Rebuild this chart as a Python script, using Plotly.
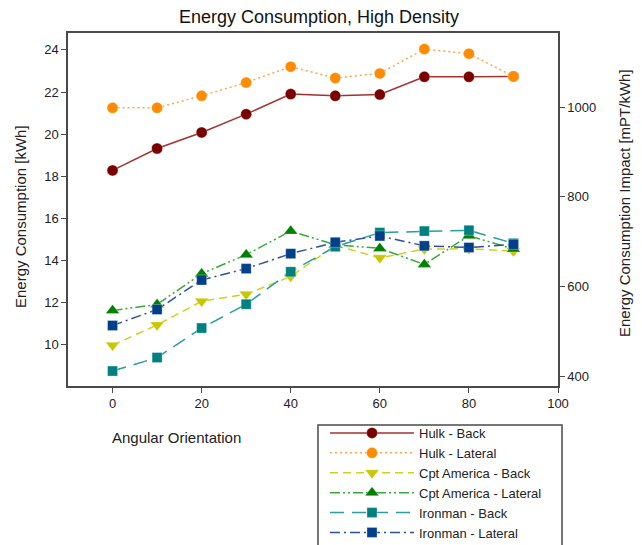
import plotly.graph_objects as go

angles = [0, 10, 20, 30, 40, 50, 60, 70, 80, 90]

hulk_back = [18.28, 19.32, 20.08, 20.95, 21.90, 21.82, 21.88, 22.72, 22.72, 22.74]
hulk_lateral = [21.25, 21.25, 21.82, 22.45, 23.20, 22.66, 22.88, 24.04, 23.82, 22.74]
cpt_back = [9.98, 10.95, 12.07, 12.40, 13.25, 14.72, 14.13, 14.55, 14.56, 14.45]
cpt_lateral = [11.63, 11.92, 13.38, 14.28, 15.40, 14.75, 14.58, 13.82, 15.18, 14.55]
iron_back = [8.76, 9.40, 10.80, 11.93, 13.47, 14.66, 15.33, 15.40, 15.44, 14.82]
iron_lateral = [10.92, 11.68, 13.08, 13.62, 14.33, 14.87, 15.17, 14.70, 14.62, 14.77]

impact_factor = 47  # mPT/kWh conversion for right axis
left_range = [8.05, 24.8]

FONT = "Liberation Sans, Arial, sans-serif"

series = [
    ("Hulk - Back", hulk_back, "#7a0000", "#a13232", "solid", "circle", 11),
    ("Hulk - Lateral", hulk_lateral, "#ff8c00", "#ffa64d", "2px,3px", "circle", 11),
    ("Cpt America - Back", cpt_back, "#c8c800", "#d0d020", "8px,5px", "triangle-down", 12),
    ("Cpt America - Lateral", cpt_lateral, "#008000", "#3aa83a", "10px,3px,2px,3px,2px,3px", "triangle-up", 12),
    ("Ironman - Back", iron_back, "#008080", "#2a9d9d", "14px,8px", "square", 10),
    ("Ironman - Lateral", iron_lateral, "#003f8a", "#2c529c", "10px,4px,2px,4px", "square", 10),
]

fig = go.Figure()
for name, vals, mcol, lcol, dash, sym, sz in series:
    fig.add_trace(go.Scatter(
        x=angles, y=vals, name=name, mode="lines+markers",
        line=dict(color=lcol, width=1.5, dash=dash),
        marker=dict(color=mcol, symbol=sym, size=sz,
                    line=dict(color="rgba(255,255,255,0.6)", width=0.5)),
    ))

# invisible trace to carry the right axis
fig.add_trace(go.Scatter(
    x=angles, y=[v * impact_factor for v in hulk_back], yaxis="y2",
    mode="lines", line=dict(color="rgba(0,0,0,0)"), showlegend=False,
    hoverinfo="skip",
))

# page body has an 8px margin; figure sized to fit the viewport
W, H = 634, 537
PL, PT, PW, PH = 60, 25, 490, 353  # plot area in figure pixels


def px_x(sx):  # screen x -> paper x
    return (sx - 8 - PL) / PW


def px_y(sy):  # screen y -> paper y
    return (PT + PH - (sy - 8)) / PH


axcol = "#4a4a4a"
fig.update_layout(
    width=W, height=H,
    margin=dict(l=PL, r=W - PL - PW, t=PT, b=H - PT - PH, autoexpand=False),
    paper_bgcolor="white", plot_bgcolor="white",
    font=dict(family=FONT, size=13, color="#222"),
    title=dict(text="Energy Consumption, High Density", x=(319 - 8) / W, xref="container",
               y=1 - (17 - 8) / H, yref="container", xanchor="center", yanchor="middle",
               font=dict(size=18, family=FONT, color="#111")),
    xaxis=dict(range=[-10, 100], tickvals=[0, 20, 40, 60, 80, 100],
               showgrid=False, zeroline=False, showline=True, linecolor=axcol,
               linewidth=1.5, mirror=True, ticks="outside", ticklen=5,
               tickcolor=axcol, tickfont=dict(size=13)),
    yaxis=dict(range=left_range, tickvals=[10, 12, 14, 16, 18, 20, 22, 24],
               showgrid=False, zeroline=False, showline=True, linecolor=axcol,
               linewidth=1.5, ticks="outside", ticklen=5, tickcolor=axcol,
               tickfont=dict(size=13)),
    yaxis2=dict(range=[left_range[0] * impact_factor, left_range[1] * impact_factor],
                overlaying="y", side="right", tickvals=[400, 600, 800, 1000],
                showgrid=False, zeroline=False, showline=True, linecolor=axcol,
                linewidth=1.5, ticks="outside", ticklen=5, tickcolor=axcol,
                tickfont=dict(size=13)),
    legend=dict(x=px_x(325), y=px_y(418), xanchor="left", yanchor="top",
                borderwidth=0, bgcolor="rgba(0,0,0,0)",
                font=dict(size=13, family=FONT, color="#222"),
                itemwidth=84, tracegroupgap=0),
    showlegend=True,
    shapes=[
        dict(type="rect", xref="paper", yref="paper",
             x0=px_x(318), x1=px_x(562), y0=px_y(425), y1=px_y(570),
             line=dict(color=axcol, width=1.5), fillcolor="rgba(0,0,0,0)",
             layer="below"),
    ],
    annotations=[
        dict(text="Energy Consumption [kWh]", xref="paper", yref="paper",
             x=px_x(20), y=px_y(217), textangle=-90,
             showarrow=False, font=dict(size=15, family=FONT, color="#222"),
             xanchor="center", yanchor="middle"),
        dict(text="Energy Consumption Impact [mPT/kWh]", xref="paper", yref="paper",
             x=px_x(625), y=px_y(203), textangle=-90,
             showarrow=False, font=dict(size=15, family=FONT, color="#222"),
             xanchor="center", yanchor="middle"),
        dict(text="Angular Orientation", xref="paper", yref="paper",
             x=px_x(110), y=px_y(437), showarrow=False,
             font=dict(size=15, family=FONT, color="#222"),
             xanchor="left", yanchor="middle"),
    ],
)

fig.write_html("out.html")
